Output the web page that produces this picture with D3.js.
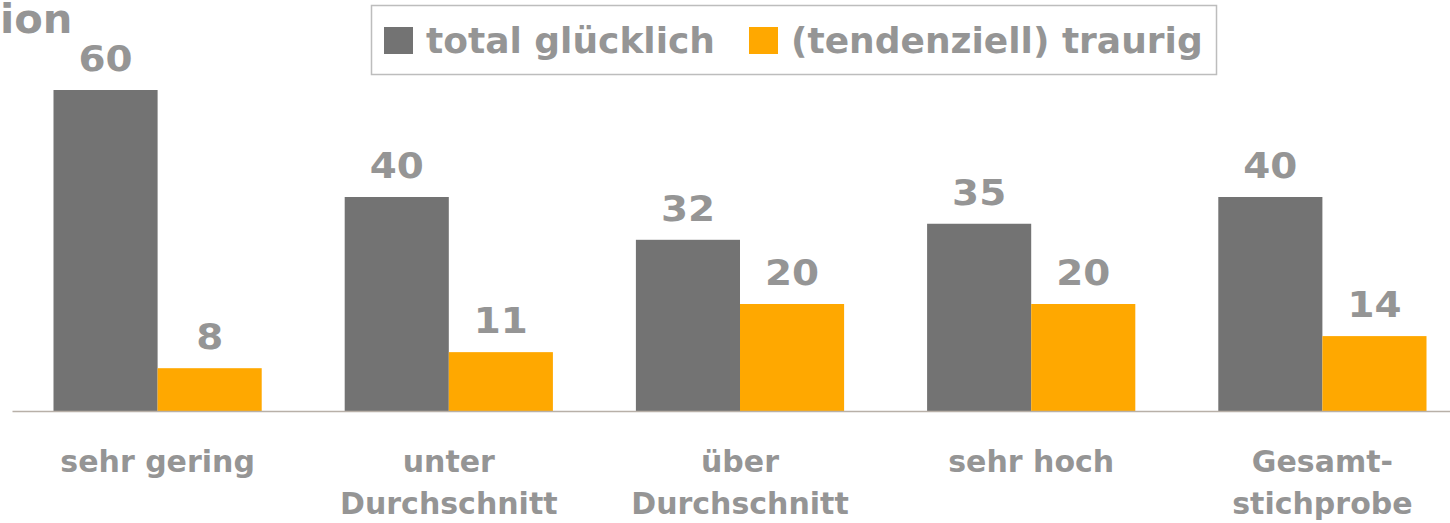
<!DOCTYPE html>
<html>
<head>
<meta charset="utf-8">
<script src="https://cdn.jsdelivr.net/npm/d3@7"></script>
<style>
  body { margin: 0; background: #fff; }
  svg { display: block; }
  text { font-family: "DejaVu Sans", Verdana, sans-serif; font-weight: bold; fill: #959595; }
</style>
</head>
<body>
<div id="chart"></div>
<script>
// data
var categories = [["sehr gering"], ["unter", "Durchschnitt"], ["über", "Durchschnitt"], ["sehr hoch"], ["Gesamt-", "stichprobe"]];
var seriesNames = ["total glücklich", "(tendenziell) traurig"];
var gluecklich = [60, 40, 32, 35, 40];
var traurig = [8, 11, 20, 20, 14];

var W = 1450, H = 523;
var colors = ["#737373", "#FFA800"];

var data = categories.map(function (c, i) {
  return {cat: c.join(" "), lines: c, values: [gluecklich[i], traurig[i]]};
});

var svg = d3.select("#chart").append("svg")
  .attr("width", W)
  .attr("height", H);

// x: band per category, inner band per series
var x0 = d3.scaleBand()
  .domain(data.map(function (d) { return d.cat; }))
  .range([12, 1468])
  .paddingInner(0.285)
  .paddingOuter(0.1425);

var x1 = d3.scaleBand()
  .domain([0, 1])
  .range([0, x0.bandwidth()]);

var y = d3.scaleLinear()
  .domain([0, 60])
  .range([411, 90]);

// title runs off the left edge, only its end is visible
svg.append("text")
  .attr("x", 0)
  .attr("y", 33)
  .attr("transform", "scale(1.04,1)")
  .style("font-size", "40px")
  .text("ion");

// bars
var groups = svg.selectAll(".group")
  .data(data)
  .enter().append("g")
  .attr("class", "group")
  .attr("transform", function (d) { return "translate(" + x0(d.cat) + ",0)"; });

groups.selectAll("rect")
  .data(function (d) { return d.values; })
  .enter().append("rect")
  .attr("x", function (d, i) { return x1(i); })
  .attr("y", function (d) { return y(d); })
  .attr("width", x1.bandwidth())
  .attr("height", function (d) { return y(0) - y(d); })
  .attr("fill", function (d, i) { return colors[i]; });

// value labels, stretched a bit to look like the wide original font
groups.selectAll(".val")
  .data(function (d) { return d.values; })
  .enter().append("text")
  .attr("class", "val")
  .attr("transform", function (d, i) {
    return "translate(" + (x1(i) + x1.bandwidth() / 2) + "," + (y(d) - 19) + ") scale(1.08,1)";
  })
  .attr("text-anchor", "middle")
  .style("font-size", "36px")
  .text(function (d) { return d; });

// baseline
svg.append("g")
  .attr("transform", "translate(0," + y(0) + ")")
  .call(d3.axisBottom(x0).tickSize(0).tickFormat(""))
  .call(function (g) { g.select(".domain").attr("stroke", "#b8b0a8").attr("stroke-width", 1.5); });

// category labels
var labels = svg.selectAll(".cat")
  .data(data)
  .enter().append("text")
  .attr("class", "cat")
  .attr("transform", function (d) {
    return "translate(" + (x0(d.cat) + x0.bandwidth() / 2) + ",472)";
  })
  .attr("text-anchor", "middle")
  .style("font-size", "30px");

labels.selectAll("tspan")
  .data(function (d) { return d.lines; })
  .enter().append("tspan")
  .attr("x", 0)
  .attr("dy", function (d, i) { return i ? 42 : 0; })
  .text(function (d) { return d; });

// legend
var legend = svg.append("g");
legend.append("rect")
  .attr("x", 371.5).attr("y", 5.5)
  .attr("width", 845).attr("height", 69)
  .attr("fill", "#fff")
  .attr("stroke", "#bdbdbd")
  .attr("stroke-width", 1.5);

var legX = [384, 749];
seriesNames.forEach(function (name, i) {
  legend.append("rect")
    .attr("x", legX[i]).attr("y", 27)
    .attr("width", 29).attr("height", 27)
    .attr("fill", colors[i]);
  legend.append("text")
    .attr("x", legX[i] + 42)
    .attr("y", 53)
    .attr("transform", i === 0 ? "translate(0,0)" : null)
    .style("font-size", "36px")
    .text(name);
});
</script>
</body>
</html>
